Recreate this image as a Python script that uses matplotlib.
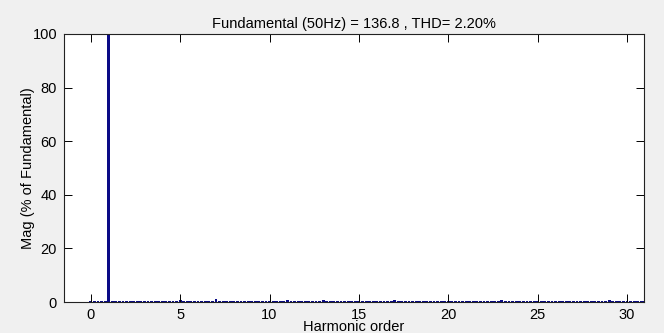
import numpy as np
import matplotlib
matplotlib.use('Agg')
import matplotlib.pyplot as plt

# FFT analysis result, bins every 0.2 harmonic order (rows = one order each)
bin_step = 0.2
mags = [
    0.3, 0.3, 0.3, 0.3, 0.3,      # 0
    100.0, 0.3, 0.3, 0.3, 0.3,    # 1
    0.3, 0.3, 0.3, 0.3, 0.3,      # 2
    0.3, 0.3, 0.3, 0.3, 0.3,      # 3
    0.3, 0.3, 0.3, 0.3, 0.3,      # 4
    0.6, 0.3, 0.3, 0.3, 0.3,      # 5
    0.3, 0.3, 0.3, 0.3, 0.3,      # 6
    1.1, 0.3, 0.3, 0.3, 0.3,      # 7
    0.3, 0.3, 0.3, 0.3, 0.3,      # 8
    0.3, 0.3, 0.3, 0.3, 0.3,      # 9
    0.3, 0.3, 0.3, 0.3, 0.3,      # 10
    0.7, 0.3, 0.3, 0.3, 0.3,      # 11
    0.3, 0.3, 0.3, 0.3, 0.3,      # 12
    0.7, 0.3, 0.3, 0.3, 0.3,      # 13
    0.3, 0.3, 0.3, 0.3, 0.3,      # 14
    0.3, 0.3, 0.3, 0.3, 0.3,      # 15
    0.3, 0.3, 0.3, 0.3, 0.3,      # 16
    0.6, 0.3, 0.3, 0.3, 0.3,      # 17
    0.3, 0.3, 0.3, 0.3, 0.3,      # 18
    0.4, 0.3, 0.3, 0.3, 0.3,      # 19
    0.3, 0.3, 0.3, 0.3, 0.3,      # 20
    0.3, 0.3, 0.3, 0.3, 0.3,      # 21
    0.3, 0.3, 0.3, 0.3, 0.3,      # 22
    0.6, 0.3, 0.3, 0.3, 0.3,      # 23
    0.3, 0.3, 0.3, 0.3, 0.3,      # 24
    0.5, 0.3, 0.3, 0.3, 0.3,      # 25
    0.3, 0.3, 0.3, 0.3, 0.3,      # 26
    0.3, 0.3, 0.3, 0.3, 0.3,      # 27
    0.3, 0.3, 0.3, 0.3, 0.3,      # 28
    0.6, 0.3, 0.3, 0.3, 0.3,      # 29
    0.3, 0.3, 0.3, 0.3, 0.3,      # 30
    0.3,                          # 31
]
orders = np.arange(len(mags)) * bin_step

title_txt = 'Fundamental (50Hz) = 136.8 , THD= 2.20%'
xticks = [0, 5, 10, 15, 20, 25, 30]
yticks = [0, 20, 40, 60, 80, 100]

plt.rcParams['font.family'] = ['Liberation Sans', 'DejaVu Sans']

fig = plt.figure(figsize=(6.64, 3.33), dpi=100, facecolor='#f0f0f0')
ax = fig.add_axes([0.0964, 0.093, 0.8735, 0.805])
ax.bar(orders, mags, width=0.8 * bin_step, color='#0a0a86', linewidth=0)

ax.set_xlim(-1.5, 30.95)
ax.set_ylim(0, 100)
ax.set_xticks(xticks)
ax.set_yticks(yticks)
ax.tick_params(direction='in', length=6, width=0.7, top=True, right=True,
               labelsize=10.5, pad=5)
ax.tick_params(axis='x', pad=4)
for s in ax.spines.values():
    s.set_linewidth(0.8)
    s.set_color('#222222')

ax.set_title(title_txt, fontsize=10.5, pad=4)
ax.set_xlabel('Harmonic order', fontsize=10.5, labelpad=-1)
ax.set_ylabel('Mag (% of Fundamental)', fontsize=10.5, labelpad=-2)

fig.savefig('out.png', dpi=100, facecolor=fig.get_facecolor())
